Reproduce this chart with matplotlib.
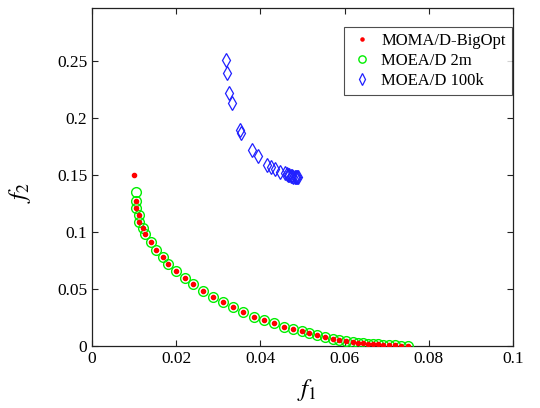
import numpy as np
import matplotlib.pyplot as plt

plt.rcParams['font.family'] = ['Liberation Serif', 'DejaVu Serif']
plt.rcParams['mathtext.fontset'] = 'stix'

# MOMA/D-BigOpt
moma_f1 = [0.0099, 0.0104, 0.0105, 0.0112, 0.0112, 0.0122, 0.0127, 0.0140, 0.0151, 0.0168,
           0.0181, 0.0200, 0.0221, 0.0241, 0.0263, 0.0288, 0.0312, 0.0334, 0.0358, 0.0385,
           0.0409, 0.0433, 0.0456, 0.0478, 0.0498, 0.0516, 0.0535, 0.0553, 0.0572, 0.0587,
           0.0603, 0.0619, 0.0633, 0.0644, 0.0656, 0.0668, 0.0680, 0.0692, 0.0705, 0.0720,
           0.0735, 0.0750]
moma_f2 = [0.150, 0.127, 0.1205, 0.1147, 0.109, 0.103, 0.098, 0.0913, 0.084, 0.078,
           0.0715, 0.066, 0.060, 0.054, 0.0484, 0.0432, 0.0383, 0.0339, 0.0300, 0.0257,
           0.0228, 0.0199, 0.0169, 0.0149, 0.0131, 0.0111, 0.0096, 0.0081, 0.0064, 0.0053,
           0.0041, 0.0032, 0.0026, 0.0024, 0.0020, 0.0017, 0.0014, 0.0012, 0.0009, 0.0006,
           0.0004, 0.0002]

# MOEA/D 2m
m2_f1 = [0.0104, 0.0104, 0.0105, 0.0112, 0.0112, 0.0122, 0.0127, 0.0140, 0.0151, 0.0168,
         0.0181, 0.0200, 0.0221, 0.0241, 0.0263, 0.0288, 0.0312, 0.0334, 0.0358, 0.0385,
         0.0409, 0.0433, 0.0456, 0.0478, 0.0498, 0.0516, 0.0535, 0.0553, 0.0572, 0.0587,
         0.0603, 0.0619, 0.0633, 0.0644, 0.0656, 0.0668, 0.0680, 0.0692, 0.0705, 0.0720,
         0.0735, 0.0750]
m2_f2 = [0.135, 0.127, 0.1205, 0.1147, 0.109, 0.103, 0.098, 0.0913, 0.084, 0.078,
         0.0715, 0.066, 0.060, 0.054, 0.0484, 0.0432, 0.0383, 0.0339, 0.0300, 0.0257,
         0.0228, 0.0199, 0.0169, 0.0149, 0.0131, 0.0111, 0.0096, 0.0081, 0.0064, 0.0053,
         0.0041, 0.0032, 0.0026, 0.0024, 0.0020, 0.0017, 0.0014, 0.0012, 0.0009, 0.0006,
         0.0004, 0.0002]

# MOEA/D 100k
k100_f1 = [0.0318, 0.0321, 0.0326, 0.0332, 0.0352, 0.0355, 0.0379, 0.0395, 0.0415, 0.0424,
           0.0435, 0.0447, 0.0458, 0.0462, 0.0466, 0.0469, 0.0472, 0.0475, 0.0478, 0.0481,
           0.0484, 0.0487, 0.0490]
k100_f2 = [0.251, 0.239, 0.222, 0.2125, 0.189, 0.187, 0.1716, 0.1666, 0.1585, 0.157,
           0.1547, 0.1526, 0.1512, 0.1505, 0.150, 0.1495, 0.149, 0.1487, 0.1485, 0.148,
           0.1483, 0.1478, 0.1485]

xticks = [0, 0.02, 0.04, 0.06, 0.08, 0.1]
xticklabels = ['0', '0.02', '0.04', '0.06', '0.08', '0.1']
yticks = [0, 0.05, 0.1, 0.15, 0.2, 0.25]
yticklabels = ['0', '0.05', '0.1', '0.15', '0.2', '0.25']

fig = plt.figure(figsize=(5.4, 4.08), dpi=100)
ax = fig.add_axes([0.1704, 0.152, 0.7796, 0.828])

ax.plot(moma_f1, moma_f2, ls='none', marker='.', color='#ff0000', ms=6, zorder=4,
        label='MOMA/D-BigOpt')
ax.plot(m2_f1, m2_f2, ls='none', marker='o', mfc='none', mec='#00ee00', ms=7, mew=1,
        zorder=3, label='MOEA/D 2m')
ax.plot(k100_f1, k100_f2, ls='none', marker='d', mfc='none', mec='#2020ff', ms=7.5, mew=0.9,
        zorder=3, label='MOEA/D 100k')

ax.set_xlim(0, 0.1)
ax.set_ylim(0, 0.296)
ax.set_xticks(xticks)
ax.set_xticklabels(xticklabels)
ax.set_yticks(yticks)
ax.set_yticklabels(yticklabels)
ax.tick_params(direction='in', length=4, width=0.8, top=True, right=True,
               labelsize=12.5, colors='#222222', labelcolor='black')
for s in ax.spines.values():
    s.set_linewidth(0.9)
    s.set_color('#222222')

ax.set_xlabel(r'$f_1$', fontsize=18)
ax.set_ylabel(r'$f_2$', fontsize=18)
ax.xaxis.set_label_coords(0.51, -0.092)
ax.yaxis.set_label_coords(-0.14, 0.455)

leg = ax.legend(loc='upper right', bbox_to_anchor=(0.997, 0.945), borderaxespad=0,
                fontsize=12, frameon=True, fancybox=False, edgecolor='#222222',
                handletextpad=0.4, handlelength=1.5, borderpad=0.35, labelspacing=0.25,
                markerscale=0.75)
leg.get_frame().set_linewidth(0.8)

fig.savefig('out.png', dpi=100)
